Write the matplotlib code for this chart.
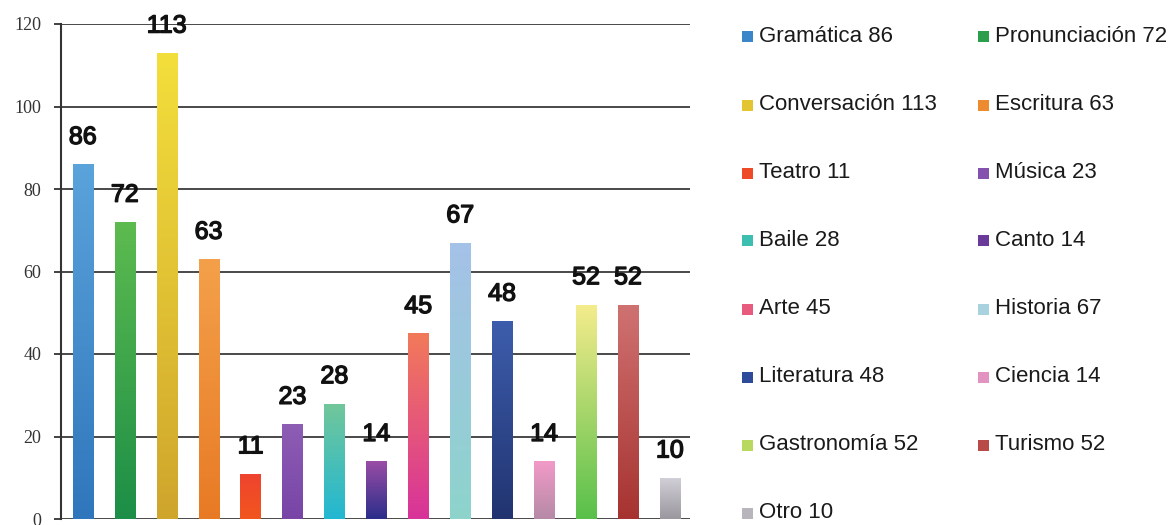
import matplotlib
matplotlib.use("Agg")
import matplotlib.pyplot as plt
import matplotlib.patheffects as pe
import numpy as np
from matplotlib.colors import LinearSegmentedColormap
from matplotlib.patches import Rectangle

categories = ["Gramática", "Pronunciación", "Conversación", "Escritura", "Teatro",
              "Música", "Baile", "Canto", "Arte", "Historia", "Literatura",
              "Ciencia", "Gastronomía", "Turismo", "Otro"]
values = [86, 72, 113, 63, 11, 23, 28, 14, 45, 67, 48, 14, 52, 52, 10]
top_colors = ["#5BA3DB", "#5DBB4F", "#F3DF3C", "#F4A04A", "#EE432F",
              "#8E5DB4", "#72C79A", "#9A4DA6", "#F27A5A", "#A5C1E8",
              "#3D5DAC", "#F29AC8", "#F5EC8C", "#D07272", "#D2D0D8"]
bottom_colors = ["#2F76BC", "#1C8E47", "#CFA52C", "#E87A25", "#F2561E",
                 "#7845A7", "#22B7D2", "#2A2E8A", "#D8339A", "#8DD4CC",
                 "#213470", "#B58AA6", "#58C04A", "#A63330", "#9A979E"]
legend_colors = ["#3A86C9", "#2A9E4A", "#E2C530", "#EE8A30", "#EE4A28",
                 "#8452AE", "#3CBFB0", "#6A3A9A", "#E85A7E", "#A8D2DE",
                 "#2E4A9A", "#E293C0", "#B8D860", "#B84A48", "#B8B6BC"]
yticks = [0, 20, 40, 60, 80, 100, 120]

W, H = 1175, 525
fig = plt.figure(figsize=(W / 100, H / 100), dpi=100)
fig.patch.set_facecolor("white")
ax = fig.add_axes([61 / W, 1 - 519 / H, (690 - 61) / W, (519 - 24) / H])

x = np.arange(len(categories))
bw = 0.48
bars = ax.bar(x, values, width=bw, color=legend_colors, zorder=3)

grad = np.linspace(0, 1, 256).reshape(-1, 1)
for xi, v, b, tc, bc in zip(x, values, bars, top_colors, bottom_colors):
    cmap = LinearSegmentedColormap.from_list("g", [bc, tc])
    im = ax.imshow(grad, cmap=cmap, origin="lower", aspect="auto",
                   extent=[xi - bw / 2, xi + bw / 2, 0, v], zorder=4)
    im.set_clip_path(b)
    ax.annotate(str(v), (xi, v), xytext=(0, 11), textcoords="offset points",
                ha="center", va="bottom", fontsize=18, family="Liberation Sans",
                color="#111111", zorder=6,
                path_effects=[pe.withStroke(linewidth=1.0, foreground="#111111")])

ax.set_xlim(-0.52, len(categories) - 1 + 0.48)
ax.set_ylim(0, 120)
ax.set_yticks(yticks)
ax.set_yticklabels([str(t) for t in yticks], family="Liberation Serif",
                   fontsize=13, color="#333333")
ax.set_xticks([])
ax.tick_params(axis="y", length=5, width=1.3, color="#333333", pad=9)
for s in ["top", "right", "bottom"]:
    ax.spines[s].set_visible(False)
ax.spines["left"].set_color("#333333")
ax.spines["left"].set_linewidth(1.5)
ax.yaxis.grid(True, color="#3a3a3a", linewidth=1.3, zorder=1)
ax.set_axisbelow(True)

# legend (row-wise, two columns)
row_y = [36, 105, 173, 241, 309, 377, 445, 513]
col_sq = [742, 978]
for i, (c, v, col) in enumerate(zip(categories, values, legend_colors)):
    r, k = divmod(i, 2)
    yc = row_y[r]
    sq = 11
    fig.patches.append(Rectangle((col_sq[k] / W, 1 - (yc + sq / 2) / H), sq / W, sq / H,
                                 transform=fig.transFigure, facecolor=col,
                                 edgecolor="none"))
    fig.text((col_sq[k] + sq + 6) / W, 1 - yc / H, f"{c} {v}", ha="left",
             va="center", fontsize=16, family="Liberation Sans", color="#1a1a1a")

fig.savefig("out.png", dpi=100, facecolor="white")
